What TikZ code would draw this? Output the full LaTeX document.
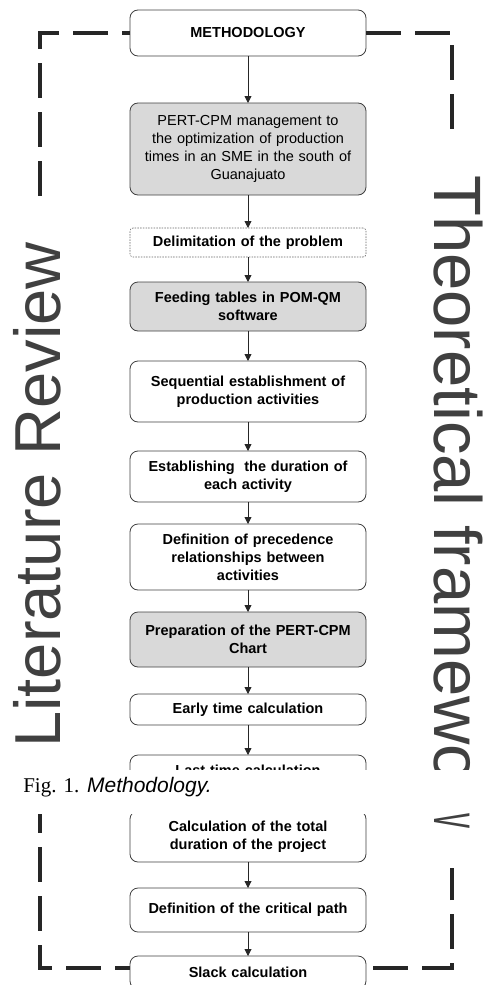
\documentclass[tikz,border=0pt]{standalone}
\usepackage{fontspec}
\setmainfont{Liberation Sans}
\newfontfamily\capfont{Liberation Serif}
\usetikzlibrary{arrows.meta,positioning}

\begin{document}
\begin{tikzpicture}[
    x = 1pt, y = -1pt, % one unit = one pixel, y pointing down
    > = {Triangle[length=7pt,width=7pt]}, % arrow head style
    flow/.style = {->, line width = 0.9pt, black!85}, % arrows between steps
    semithick % line style
    ]

    \tikzset{
    box/.style = {draw = black!75, fill = white, line width = 0.8pt,
        rounded corners = 8pt, text width = 220pt, inner xsep = 8pt,
        inner ysep = 2pt, outer sep = 0pt, align = center,
        font = \fontsize{14.5}{18}\selectfont\bfseries},
    greybox/.style = {box, fill = black!15},
    dotbox/.style = {box, draw = black!60, line width = 0.6pt,
        rounded corners = 3pt, dash pattern = on 1.5pt off 1.2pt},
    side/.style = {font = \fontsize{65}{65}\selectfont, text = black!75,
        fill = white, inner xsep = 40pt, inner ysep = 3pt},
    frame/.style = {line width = 3.5pt, black!85,
        dash pattern = on 35pt off 14pt}
    }

    \useasboundingbox (0,0) rectangle (483,985);

    % steps
    \node[box, minimum height = 46pt] (meth) at (248,33) {METHODOLOGY};
    \node[greybox, minimum height = 92pt, font = \fontsize{14.5}{18}\selectfont]
        (pert) [below = 47pt of meth]
        {PERT-CPM management to\\ the optimization of production\\
         times in an SME in the south of\\ Guanajuato};
    \node[dotbox, minimum height = 29pt] (delim) [below = 33pt of pert] {Delimitation of the problem};
    \node[greybox, minimum height = 49pt] (feed) [below = 25pt of delim] {Feeding tables in POM-QM\\ software};
    \node[box, minimum height = 61pt] (seq) [below = 30pt of feed] {Sequential establishment of\\ production activities};
    \node[box, minimum height = 51pt] (dur) [below = 29pt of seq] {Establishing\ \ the duration of\\ each activity};
    \node[box, minimum height = 66pt] (prec) [below = 22pt of dur] {Definition of precedence\\ relationships between\\ activities};
    \node[greybox, minimum height = 55pt] (chart) [below = 22pt of prec] {Preparation of the PERT-CPM\\ Chart};
    \node[box, minimum height = 31pt] (early) [below = 27pt of chart] {Early time calculation};
    \node[box, minimum height = 31pt] (last) [below = 30pt of early] {Last time calculation};
    \node[box, minimum height = 51pt] (total) [below = 25pt of last] {Calculation of the total\\ duration of the project};
    \node[box, minimum height = 44pt] (crit) [below = 26pt of total] {Definition of the critical path};
    \node[box, minimum height = 33pt] (slack) [below = 24pt of crit] {Slack calculation};

    \path[flow] (meth) edge (pert);
    \path[flow] (pert) edge (delim);
    \path[flow] (delim) edge (feed);
    \path[flow] (feed) edge (seq);
    \path[flow] (seq) edge (dur);
    \path[flow] (dur) edge (prec);
    \path[flow] (prec) edge (chart);
    \path[flow] (chart) edge (early);
    \path[flow] (early) edge (last);
    \path[flow] (last) edge (total);
    \path[flow] (total) edge (crit);
    \path[flow] (crit) edge (slack);

    % dashed frame
    \coordinate (tl) at (40,33);
    \coordinate (tr) at (452,33);
    \coordinate (bl) at (40,968);
    \coordinate (br) at (452,968);
    \coordinate (rtail) at (452,868);
    \draw[frame, dash phase = 27pt] (meth.west) -- (tl) -- (bl) -- (bl -| slack.west);

    \node[side, rotate = 90, anchor = base west] (litrev) at (60,788) {Literature Review};
    \node[side, rotate = -90, anchor = base west, font = \fontsize{67}{67}\selectfont]
        (theo) at (434,135) {Theoretical framewo};

    \draw[frame] (meth.east) -- (tr) -- (tr |- theo.west);
    \draw[frame, dash phase = 42pt] (br -| slack.east) -- (br) -- (rtail);

    % page break with the caption
    \fill[white] (0,769.5) rectangle (483,814);
    \node[anchor = base west, inner sep = 0pt, font = \fontsize{21}{21}\selectfont]
        (cap) at (23,792) {{\capfont Fig. 1.} \textit{Methodology.}};
    \node[rotate = -90, inner sep = 0pt, text = black!75, font = \fontsize{67}{67}\selectfont]
        (theotail) at (452,821) {\scalebox{0.45}[1]{v}};
\end{tikzpicture}
\end{document}
